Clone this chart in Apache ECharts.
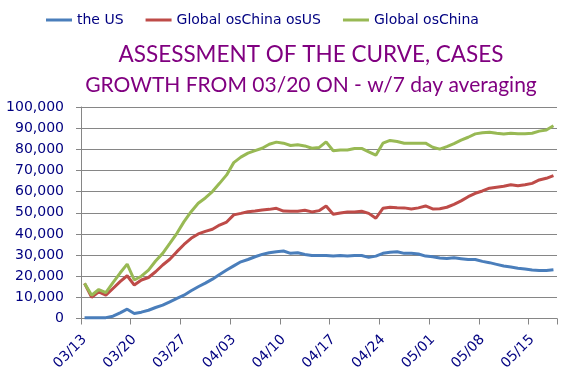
<!DOCTYPE html>
<html>
<head>
<meta charset="utf-8">
<script src="https://cdn.jsdelivr.net/npm/echarts@6/dist/echarts.min.js"></script>
<style>
html,body{margin:0;padding:0;background:#fff;}
#chart{width:580px;height:389px;}
</style>
</head>
<body>
<div id="chart"></div>
<script>
var titleText = 'ASSESSMENT OF THE CURVE, CASES';
var subtitleText = 'GROWTH FROM 03/20 ON - w/7 day averaging';
var seriesNames = ['the US', 'Global osChina osUS', 'Global osChina'];

var dates = [
  '03/13','03/14','03/15','03/16','03/17','03/18','03/19','03/20','03/21','03/22',
  '03/23','03/24','03/25','03/26','03/27','03/28','03/29','03/30','03/31',
  '04/01','04/02','04/03','04/04','04/05','04/06','04/07','04/08','04/09','04/10',
  '04/11','04/12','04/13','04/14','04/15','04/16','04/17','04/18','04/19','04/20',
  '04/21','04/22','04/23','04/24','04/25','04/26','04/27','04/28','04/29','04/30',
  '05/01','05/02','05/03','05/04','05/05','05/06','05/07','05/08','05/09','05/10',
  '05/11','05/12','05/13','05/14','05/15','05/16','05/17','05/18'
];

var usValues = [
  300,300,300,400,1100,2700,4400,2400,3000,3900,
  5200,6300,7900,9500,11000,13100,15000,16700,18600,20800,
  22900,24900,26800,27900,29200,30300,31100,31600,31900,30800,
  31100,30300,29800,29800,29800,29500,29800,29500,29800,29800,
  28900,29500,30800,31300,31600,30800,30800,30500,29500,29200,
  28600,28400,28700,28300,27900,27900,27000,26400,25600,24800,
  24300,23800,23400,22900,22700,22700,23100
];

var globalExChinaExUsValues = [
  16600,10000,12600,11000,14200,17400,20200,15800,18200,19400,
  22100,25300,28000,31600,35000,37900,40000,41200,42200,44200,
  45600,49000,49700,50500,50800,51300,51600,52100,50800,50700,
  50700,51200,50400,51000,53200,49300,49900,50400,50400,50700,
  49700,47400,52100,52600,52400,52300,51800,52300,53200,51800,
  51900,52600,54000,55600,57600,59200,60300,61600,62100,62500,
  63200,62800,63200,63900,65500,66300,67600
];

var globalExChinaValues = [
  16600,11000,13700,12200,17000,21500,25700,18200,20000,22900,
  27200,30800,35500,40300,45800,50500,54500,57000,60000,63900,
  67900,73700,76300,78200,79400,80500,82400,83400,82900,81800,
  82100,81600,80500,80800,83500,79300,79700,79700,80400,80400,
  78800,77200,82900,84200,83700,82900,82900,82900,82900,81000,
  80100,81300,82700,84300,85700,87300,87800,88100,87600,87200,
  87600,87300,87300,87600,88600,89100,91100
];

var colors = ['#4A7EBB', '#BE4B48', '#98B954'];
var navy = '#000080';
var gridColor = '#868686';

var chart = echarts.init(document.getElementById('chart'), null, {renderer: 'canvas'});

function mkSeries(name, data, color) {
  return {
    name: name,
    type: 'line',
    data: data,
    symbol: 'none',
    showSymbol: false,
    smooth: false,
    lineStyle: {width: 3, color: color},
    itemStyle: {color: color},
    emphasis: {disabled: true},
    animation: false
  };
}

chart.setOption({
  animation: false,
  title: [
    {
      text: titleText,
      left: 311,
      textAlign: 'center',
      top: 43,
      padding: 0,
      textStyle: {fontFamily: 'Lato', fontSize: 22.5, fontWeight: 'normal', color: '#800080'}
    },
    {
      text: subtitleText,
      left: 311,
      textAlign: 'center',
      top: 75,
      padding: 0,
      textStyle: {fontFamily: 'Lato', fontSize: 21, fontWeight: 'normal', color: '#800080'}
    }
  ],
  legend: {
    left: 41,
    top: 8,
    itemWidth: 26,
    itemHeight: 3,
    itemGap: 22,
    icon: 'rect',
    data: seriesNames,
    textStyle: {fontFamily: 'DejaVu Sans', fontSize: 14, color: navy}
  },
  grid: {left: 81, right: 23, top: 107, bottom: 70.5, containLabel: false},
  xAxis: {
    type: 'category',
    data: dates,
    boundaryGap: true,
    axisLine: {show: true, lineStyle: {color: gridColor, width: 1}},
    axisTick: {show: true, interval: 6, length: 6, lineStyle: {color: gridColor}},
    axisLabel: {
      interval: 6,
      rotate: 45,
      margin: 19,
      fontFamily: 'DejaVu Sans',
      fontSize: 14,
      color: navy
    },
    splitLine: {show: false}
  },
  yAxis: {
    type: 'value',
    min: 0,
    max: 100000,
    interval: 10000,
    axisLine: {show: true, lineStyle: {color: gridColor, width: 1}},
    axisTick: {show: true, length: 5, lineStyle: {color: gridColor}},
    axisLabel: {
      margin: 17,
      fontFamily: 'DejaVu Sans',
      fontSize: 14,
      color: navy,
      formatter: function (v) { return v.toLocaleString('en-US'); }
    },
    splitLine: {show: true, lineStyle: {color: gridColor, width: 1}}
  },
  series: [
    mkSeries(seriesNames[0], usValues, colors[0]),
    mkSeries(seriesNames[1], globalExChinaExUsValues, colors[1]),
    mkSeries(seriesNames[2], globalExChinaValues, colors[2])
  ]
});
</script>
</body>
</html>
